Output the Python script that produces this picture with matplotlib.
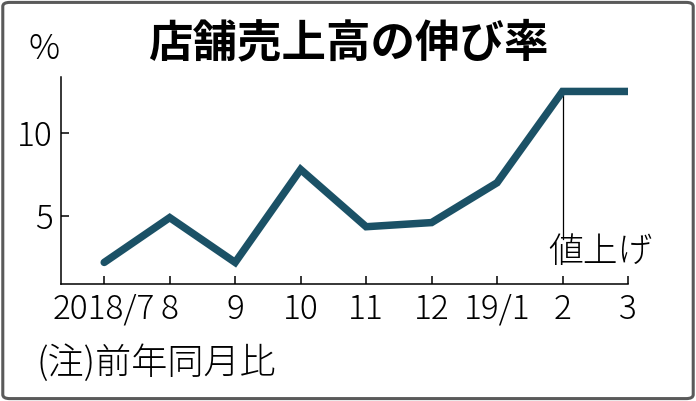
import matplotlib
matplotlib.use("Agg")
import matplotlib.pyplot as plt
from matplotlib.patches import FancyBboxPatch

months = ["2018/7", "8", "9", "10", "11", "12", "19/1", "2", "3"]
growth = [2.2, 4.9, 2.2, 7.8, 4.35, 4.6, 7.0, 12.5, 12.5]
yticks = [5, 10]
note_idx = 7
note_text = "値上げ"

jp = ["Noto Sans CJK JP", "DejaVu Sans"]
line_color = "#1b5166"

fig = plt.figure(figsize=(6.96, 4.01), dpi=100)
ax = fig.add_axes([61/696, 1 - 284/401, (628 - 61)/696, (284 - 77)/401])

x = list(range(len(months)))
ax.plot(x, growth, color=line_color, lw=5.4, solid_joinstyle="miter", solid_capstyle="round", zorder=3)
ax.plot([note_idx, note_idx], [growth[note_idx], 3.6], color="black", lw=0.9, zorder=2)
ax.text(note_idx - 0.22, 1.75, note_text, family=jp, fontsize=25, fontweight="light", ha="left", va="bottom")

ax.set_xlim(-0.66, 8.0)
ax.set_ylim(0.9, 13.37)
ax.spines["top"].set_visible(False)
ax.spines["right"].set_visible(False)
for s in ("left", "bottom"):
    ax.spines[s].set_linewidth(1.1)
ax.set_xticks(x)
ax.set_xticklabels(months)
ax.set_yticks(yticks)
ax.tick_params(direction="in", length=6, width=1.1, labelsize=24, pad=6)
for lab in ax.get_xticklabels() + ax.get_yticklabels():
    lab.set_family(jp)
    lab.set_fontweight("light")

fig.text(0.5, 1 - 43/401, "店舗売上高の伸び率", family=jp, fontsize=32, fontweight="bold", ha="center", va="center")
fig.text(44/696, 1 - 49/401, "%", family=jp, fontsize=25, fontweight="light", ha="center", va="center")
fig.text(36/696, 1 - 364/401, "(注)前年同月比", family=jp, fontsize=26, fontweight="light", ha="left", va="center")

border = FancyBboxPatch((0.004, 0.006), 0.992, 0.988, boxstyle="round,pad=0,rounding_size=0.01",
                        transform=fig.transFigure, fill=False, edgecolor="#5a5a5a", lw=2.2)
fig.patches.append(border)

fig.savefig("out.png", dpi=100)
